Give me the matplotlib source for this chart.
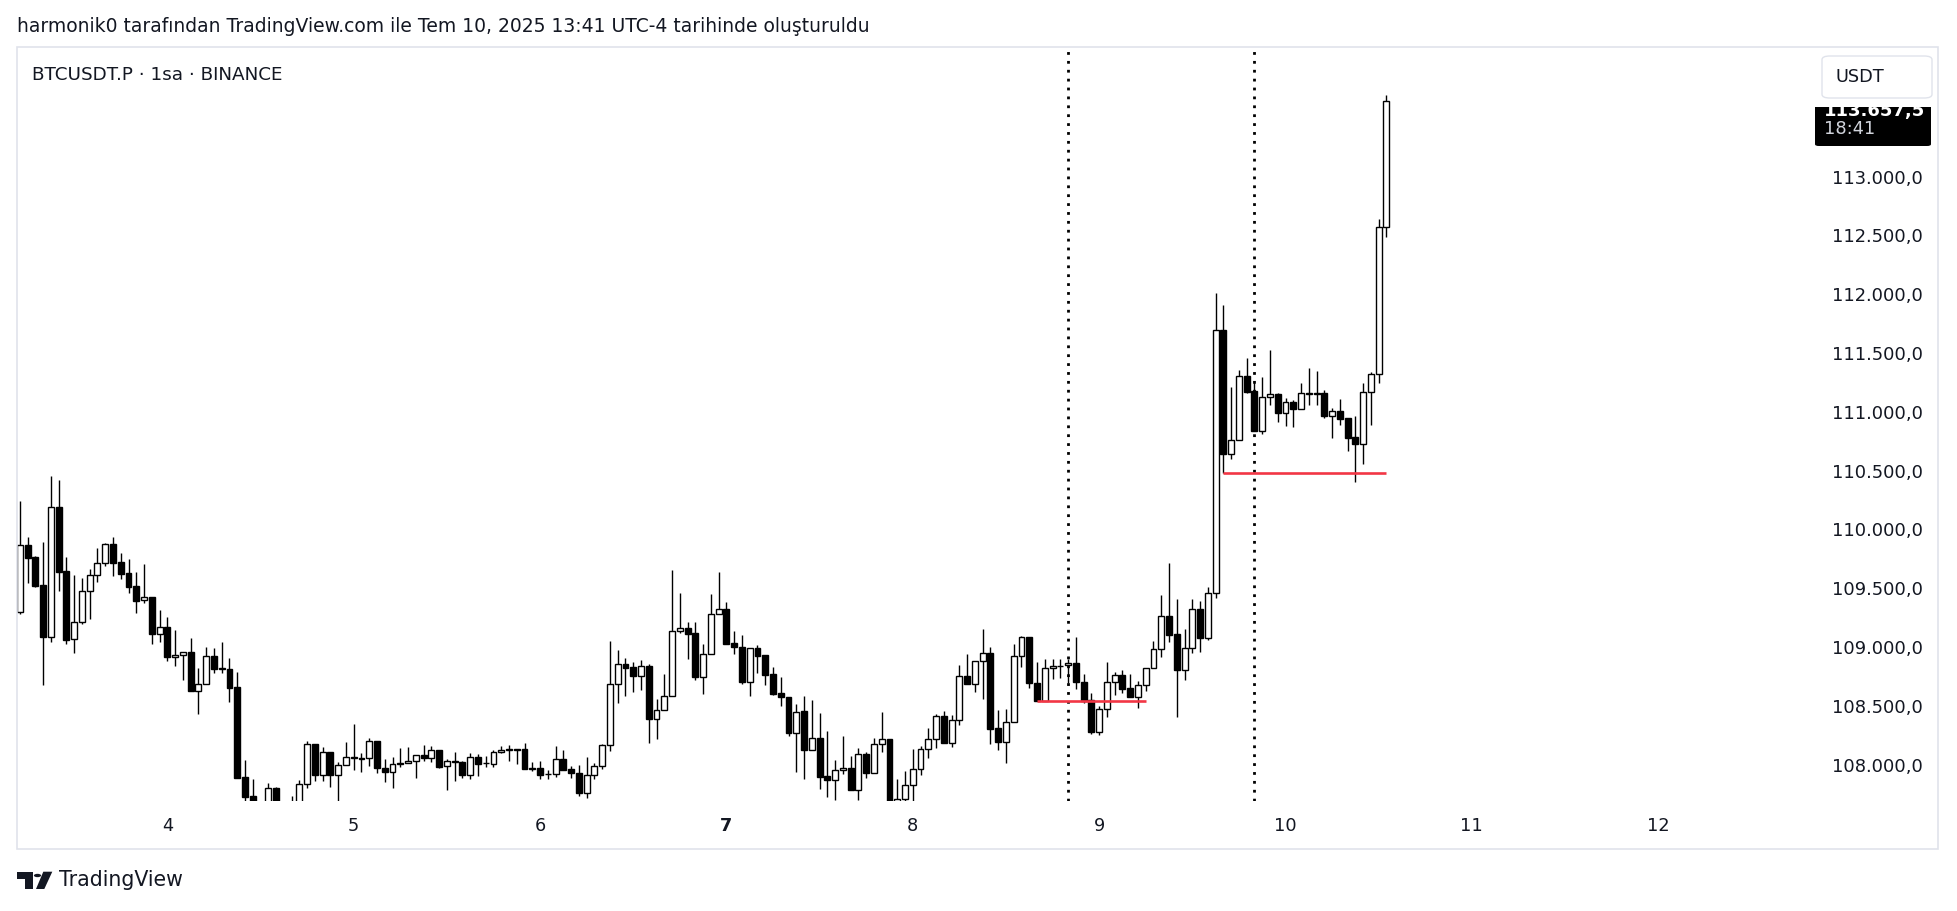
import numpy as np
import matplotlib
matplotlib.use("Agg")
import matplotlib.pyplot as plt
from matplotlib import patches
from matplotlib import transforms

# BTCUSDT.P, 1h candles (index 0 = Jul 3, ~05:00)
opens = [109312, 109885, 109783, 109544, 109105, 110205, 109664, 109083, 109227, 109491,
         109627, 109729, 109890, 109737, 109644, 109533, 109417, 109443, 109125, 109185,
         108930, 108947, 108972, 108646, 108700, 108938, 108836, 108828, 108674, 107912,
         107751, 107650, 107640, 107816, 107660, 107680, 107700, 107853, 108190, 107926,
         108122, 107926, 108011, 108079, 108071, 108071, 108215, 107986, 107957, 108028,
         108028, 108045, 108096, 108071, 108139, 108003, 108045, 108037, 107932, 108082,
         108028, 108020, 108122, 108145, 108147, 108147, 107986, 107986, 107935, 107935,
         108065, 107977, 107943, 107779, 107926, 108003, 108181, 108700, 108870, 108844,
         108774, 108853, 108408, 108479, 108601, 109153, 109176, 109133, 108765, 108955,
         109295, 109338, 109048, 109017, 108723, 109009, 108946, 108785, 108623, 108589,
         108289, 108470, 108144, 108241, 107918, 107889, 107969, 107989, 107804, 108108,
         107949, 108190, 108235, 107690, 107722, 107841, 107977, 108147, 108232, 108428,
         108198, 108394, 108771, 108700, 108898, 108963, 108329, 108207, 108377, 108938,
         109100, 108708, 108561, 108836, 108859, 108861, 108878, 108717, 108564, 108297,
         108487, 108717, 108776, 108666, 108595, 108691, 108836, 108998, 109278, 109125,
         108825, 109006, 109338, 109097, 109474, 111710, 110661, 110775, 111319, 111194,
         110857, 111140, 111166, 111010, 111098, 111044, 111174, 111174, 111174, 110985,
         111021, 110962, 110800, 110741, 111183, 111336, 112586]
highs = [110259, 109950, 109791, 109910, 110471, 110437, 109780, 109627, 109604, 109681,
         109859, 109904, 109950, 109814, 109763, 109655, 109723, 109443, 109329, 109273,
         109159, 108972, 109091, 108842, 109017, 109009, 109060, 108924, 108805, 108057,
         107895, 107700, 107864, 107827, 107700, 107751, 107887, 108218, 108190, 108167,
         108122, 108037, 108210, 108363, 108113, 108244, 108215, 108065, 108082, 108159,
         108167, 108096, 108184, 108176, 108139, 108065, 108122, 108045, 108113, 108105,
         108088, 108139, 108173, 108181, 108147, 108198, 108037, 108045, 107969, 108176,
         108142, 108006, 108014, 108082, 108031, 108193, 109068, 108992, 108924, 108890,
         108907, 108870, 108572, 108788, 109672, 109476, 109230, 109230, 109043, 109468,
         109655, 109400, 109153, 109119, 109006, 109034, 108946, 108847, 108759, 108589,
         108533, 108601, 108567, 108456, 108303, 108057, 108261, 108091, 108156, 108125,
         108244, 108462, 108235, 107895, 107963, 108150, 108176, 108329, 108445, 108470,
         108439, 108864, 108958, 108898, 109170, 109017, 108482, 108490, 109040, 109108,
         109100, 108890, 108915, 108915, 108915, 108915, 109102, 108785, 108623, 108516,
         108887, 108802, 108819, 108788, 108725, 108836, 109065, 109457, 109732, 109425,
         109170, 109425, 109408, 109525, 112027, 111925, 111228, 111373, 111472, 111270,
         111310, 111540, 111174, 111135, 111117, 111262, 111390, 111364, 111203, 111047,
         111126, 110962, 110982, 111262, 111356, 112654, 113711]
lows = [109300, 109559, 109528, 108697, 109063, 109496, 109040, 108964, 109216, 109258,
        109573, 109709, 109624, 109593, 109479, 109309, 109389, 109046, 109063, 108901,
        108859, 108737, 108646, 108448, 108700, 108799, 108794, 108553, 107906, 107650,
        107600, 107580, 107620, 107600, 107590, 107600, 107650, 107821, 107878, 107878,
        107830, 107690, 108011, 107975, 107952, 108009, 107943, 107872, 107821, 108000,
        108028, 107906, 108051, 108037, 107986, 107804, 107881, 107906, 107898, 107923,
        108000, 107994, 108113, 108051, 108025, 107983, 107966, 107898, 107898, 107915,
        107974, 107906, 107751, 107736, 107895, 107980, 108136, 108541, 108604, 108635,
        108655, 108204, 108235, 108479, 108601, 109139, 108918, 108737, 108620, 108955,
        109295, 109046, 108961, 108703, 108604, 108799, 108697, 108612, 108518, 108263,
        107957, 107898, 108144, 107813, 107745, 107714, 107940, 107804, 107719, 107906,
        107949, 108127, 107650, 107650, 107680, 107690, 107932, 108076, 108161, 108198,
        108170, 108357, 108700, 108637, 108578, 108190, 108144, 108034, 108377, 108850,
        108672, 108561, 108561, 108748, 108757, 108708, 108663, 108544, 108281, 108269,
        108425, 108612, 108623, 108595, 108502, 108646, 108836, 108930, 109063, 108425,
        108740, 108969, 108978, 109080, 109437, 110494, 110619, 110775, 111174, 110857,
        110828, 111078, 110933, 110899, 110891, 111044, 111075, 111075, 110968, 110797,
        110908, 110687, 110423, 110576, 110908, 111265, 112506]
closes = [109885, 109777, 109536, 109105, 110205, 109658, 109080, 109227, 109491, 109627,
          109729, 109890, 109734, 109641, 109530, 109411, 109440, 109125, 109185, 108930,
          108947, 108972, 108646, 108700, 108938, 108833, 108830, 108672, 107906, 107745,
          107650, 107640, 107816, 107660, 107680, 107700, 107853, 108190, 107926, 108122,
          107926, 108011, 108079, 108071, 108068, 108215, 107991, 107957, 108020, 108025,
          108045, 108096, 108071, 108139, 108000, 108045, 108037, 107932, 108082, 108025,
          108031, 108122, 108139, 108147, 108145, 107983, 107983, 107926, 107938, 108062,
          107974, 107943, 107779, 107926, 108003, 108181, 108700, 108870, 108842, 108774,
          108853, 108408, 108479, 108601, 109153, 109176, 109131, 108765, 108955, 109295,
          109338, 109046, 109014, 108723, 109006, 108944, 108782, 108620, 108589, 108289,
          108468, 108144, 108241, 107915, 107889, 107969, 107986, 107804, 108105, 107949,
          108190, 108232, 107690, 107725, 107841, 107977, 108147, 108232, 108428, 108198,
          108394, 108771, 108700, 108898, 108963, 108323, 108207, 108377, 108938, 109100,
          108708, 108561, 108836, 108853, 108853, 108878, 108717, 108561, 108295, 108487,
          108717, 108776, 108663, 108595, 108691, 108836, 108998, 109278, 109122, 108825,
          109006, 109338, 109097, 109474, 111710, 110661, 110775, 111319, 111188, 110857,
          111140, 111166, 111010, 111098, 111044, 111174, 111172, 111172, 110985, 111021,
          110959, 110797, 110741, 111183, 111336, 112586, 113657.5]

# x axis: day labels sit on the 00:00 candle of each day
day_labels = ["4", "5", "6", "7", "8", "9", "10", "11", "12"]
day_pos = [19, 43, 67, 91, 115, 139, 163, 187, 211]

price_ticks = [108000, 108500, 109000, 109500, 110000, 110500,
               111000, 111500, 112000, 112500, 113000]

# drawings on the chart
vline_pos = [135, 159]
red_levels = [108561, 110494]
red_start = [131, 155]
red_end = [145, 176]

last_price = "113.657,5"
countdown = "18:41"
header = "harmonik0 tarafından TradingView.com ile Tem 10, 2025 13:41 UTC-4 tarihinde oluşturuldu"
legend = "BTCUSDT.P · 1sa · BINANCE"

W, H = 1958, 911
plt.rcParams['font.family'] = ['DejaVu Sans']


def fx(x):
    return x / W


def fy(y):
    return 1 - y / H


fig = plt.figure(figsize=(W / 100, H / 100), dpi=100)
fig.patch.set_facecolor('white')

# chart pane (pixels: left 17, right 1938, top 47, bottom 800.7)
ax = fig.add_axes([fx(17), fy(800.7), fx(1938 - 17), (800.7 - 47) / H])
ax.set_xlim(-0.36, 247.03)
ax.set_ylim(107710, 114119)
for s in ax.spines.values():
    s.set_visible(False)
ax.set_yticks([])

o = np.array(opens, dtype=float)
hi = np.array(highs, dtype=float)
lo = np.array(lows, dtype=float)
c = np.array(closes, dtype=float)
idx = np.arange(len(o))
up = c >= o
bot = np.minimum(o, c)
hgt = np.abs(c - o)

ax.vlines(idx, lo, hi, color='black', lw=1.0, zorder=2)
ax.bar(idx[up], hgt[up], bottom=bot[up], width=0.76, facecolor='white',
       edgecolor='black', linewidth=1.0, zorder=3)
ax.bar(idx[~up], hgt[~up], bottom=bot[~up], width=0.76, facecolor='black',
       edgecolor='black', linewidth=1.0, zorder=3)

for xv in vline_pos:
    ax.axvline(xv, color='black', lw=2.0, linestyle=(0, (1, 2.2)),
               dash_capstyle='butt', zorder=4)
for lvl, a, b in zip(red_levels, red_start, red_end):
    ax.hlines(lvl, a, b, color='#f23645', lw=1.9, zorder=5)

ax.set_xticks(day_pos, day_labels)
ax.tick_params(axis='x', length=0, pad=12, labelsize=12.8, colors='#131722')
for t in ax.get_xticklabels():
    if t.get_text() == "7":
        t.set_fontweight('bold')

# price scale labels
trans = transforms.blended_transform_factory(ax.transAxes, ax.transData)
for p in price_ticks:
    lab = f"{p:,.1f}".replace(",", "X").replace(".", ",").replace("X", ".")
    ax.text(0.9922, p, lab, transform=trans, ha='right', va='center',
            fontsize=12.9, color='#131722')

# outer frame
fig.patches.append(patches.Rectangle((fx(17), fy(849)), fx(1938 - 17), (849 - 47) / H,
                                     transform=fig.transFigure, fill=False,
                                     edgecolor='#e0e3eb', lw=1.2))

# last price label and currency button
fig.patches.append(patches.FancyBboxPatch((fx(1815), fy(146)), fx(116), 54 / H,
                                          boxstyle="round,pad=0,rounding_size=0.002",
                                          transform=fig.transFigure,
                                          facecolor='black', edgecolor='none', zorder=5))
fig.text(fx(1824), fy(111), last_price, color='white', fontsize=13, fontweight='bold',
         va='center', ha='left', zorder=6)
fig.text(fx(1824), fy(129), countdown, color='#d1d4dc', fontsize=12.8,
         va='center', ha='left', zorder=6)
fig.patches.append(patches.Rectangle((fx(1812), fy(106.5)), fx(125), (106.5 - 48) / H,
                                     transform=fig.transFigure, facecolor='white',
                                     edgecolor='none', zorder=7))
fig.patches.append(patches.FancyBboxPatch((fx(1822), fy(98)), fx(110), 42 / H,
                                          boxstyle="round,pad=0,rounding_size=0.004",
                                          transform=fig.transFigure, facecolor='white',
                                          edgecolor='#e0e3eb', lw=1, zorder=8))
t = fig.text(fx(1836), fy(77), "USDT", fontsize=12.8, color='#131722',
             va='center', ha='left')
t.set_zorder(9)

# texts
fig.text(fx(17), fy(26), header, fontsize=13.5, va='center', ha='left', color='#131722')
fig.text(fx(32), fy(75), legend, fontsize=13.2, va='center', ha='left', color='#131722')

# TradingView logo
logo = [
    [(17.3, 871.7), (32.7, 871.7), (32.7, 889), (25, 889), (25, 878.7), (17.3, 878.7)],
    [(43.3, 871.7), (52.3, 871.7), (44.3, 889), (36, 889)],
]
for poly in logo:
    fig.patches.append(patches.Polygon([(fx(x), fy(y)) for x, y in poly], closed=True,
                                       transform=fig.transFigure, facecolor='#131722',
                                       edgecolor='none'))
fig.patches.append(patches.Circle((fx(37.5), fy(875.5)), 3.6 / W,
                                  transform=fig.transFigure, facecolor='#131722'))
fig.text(fx(59), fy(880), "TradingView", fontsize=14.8, va='center', ha='left', color='#131722')

fig.savefig("out.png", dpi=100)
